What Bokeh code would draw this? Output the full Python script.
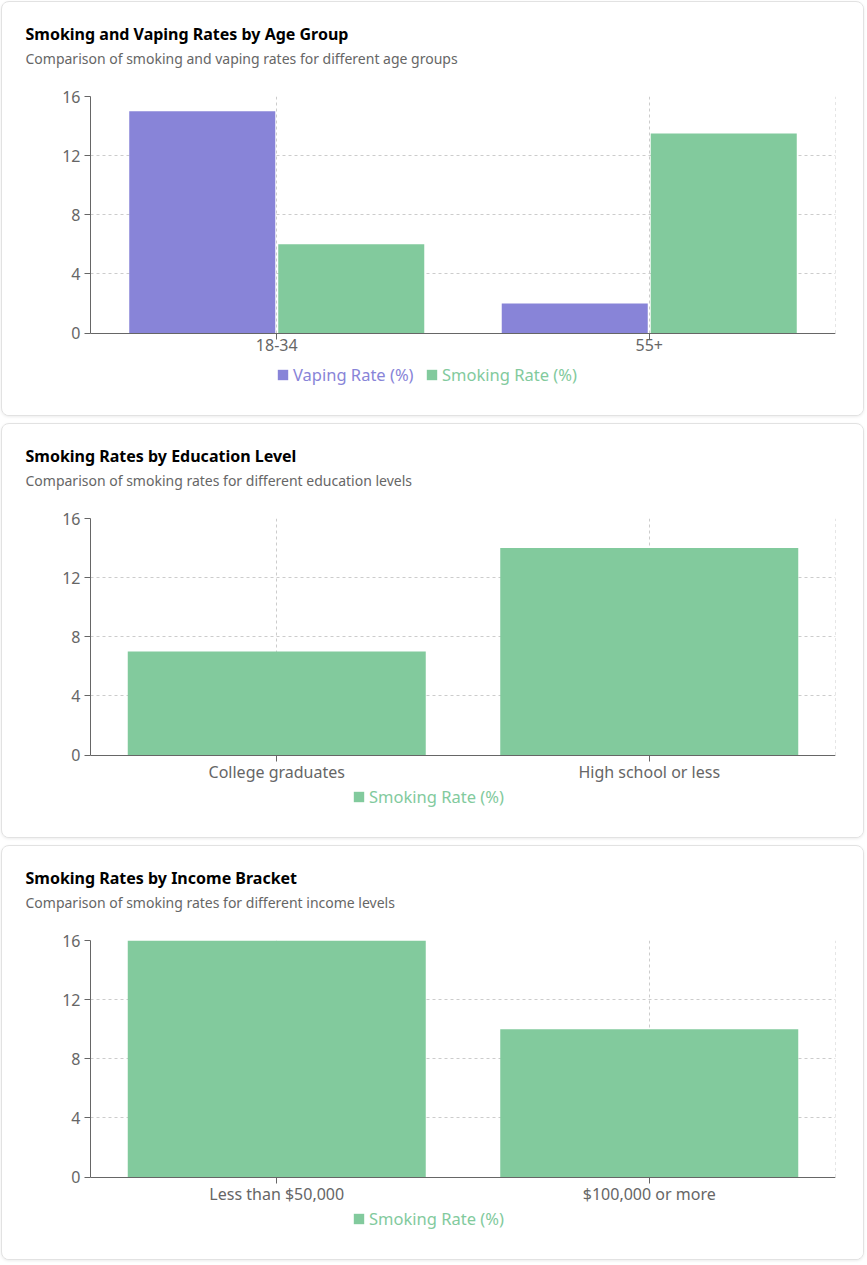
from bokeh.plotting import figure
from bokeh.layouts import column
from bokeh.models import Title, Legend, LegendItem, ColumnDataSource, FixedTicker
from bokeh.transform import dodge
from bokeh.embed import file_html
from bokeh.resources import INLINE

# ---- data ----
age_groups = ["18-34", "55+"]
age_vaping = [15, 2]
age_smoking = [6, 13.5]

edu_levels = ["College graduates", "High school or less"]
edu_smoking = [7, 14]

income_levels = ["Less than $50,000", "$100,000 or more"]
income_smoking = [16, 10]

y_ticks = [0, 4, 8, 12, 16]

VAPE = "#8884d8"
SMOKE = "#82ca9d"
FONT = "Noto Sans"
GRID = "#cccccc"

CARD_W, CARD_H = 863, 415
BORDER_L, BORDER_R, BORDER_T, BORDER_B = 88, 30, 94, 14
PX_PER_UNIT = 235 / 16.0
ZERO_TO_FRAME_BOTTOM = 70  # px between the zero line and the frame bottom


def make_card(title, subtitle, cats):
    ymin = -ZERO_TO_FRAME_BOTTOM / PX_PER_UNIT
    p = figure(x_range=cats, y_range=(ymin, y_ticks[-1]), width=CARD_W, height=CARD_H,
               output_backend="svg", toolbar_location=None,
               min_border_left=BORDER_L, min_border_right=BORDER_R,
               min_border_top=BORDER_T, min_border_bottom=BORDER_B)
    p.title.visible = False
    # spacer, subtitle, title (nearest the frame first)
    p.add_layout(Title(text=" ", text_font=FONT, text_font_size="10px",
                       text_color="white", align="left", standoff=12), "above")
    p.add_layout(Title(text=subtitle, text_font=FONT, text_font_size="14px",
                       text_font_style="normal", text_color="#666666",
                       align="left", offset=-65, standoff=2), "above")
    p.add_layout(Title(text=title, text_font=FONT, text_font_size="16px",
                       text_font_style="bold", text_color="#000000",
                       align="left", offset=-65, standoff=2), "above")
    p.styles = {"border": "1px solid #e2e2e2", "border-radius": "8px",
                "box-shadow": "0 1px 3px rgba(0,0,0,0.08)", "overflow": "hidden",
                "background": "white"}
    p.background_fill_color = "white"
    p.border_fill_color = "white"
    p.outline_line_color = None

    p.ygrid.grid_line_color = GRID
    p.ygrid.grid_line_dash = "3 3"
    p.ygrid.ticker = FixedTicker(ticks=y_ticks)
    p.xgrid.grid_line_color = GRID
    p.xgrid.grid_line_dash = "3 3"
    try:
        p.xgrid.cross_bounds = (y_ticks[0], y_ticks[-1])
    except Exception:
        p.xgrid.visible = False
        seg = ColumnDataSource(dict(c=list(cats), y0=[y_ticks[0]] * len(cats),
                                    y1=[y_ticks[-1]] * len(cats)))
        p.segment(x0="c", x1="c", y0="y0", y1="y1", source=seg,
                  line_color=GRID, line_dash="3 3", level="underlay")
    # right edge of the grid
    edge = ColumnDataSource(dict(c=[cats[-1]], y0=[y_ticks[0]], y1=[y_ticks[-1]]))
    p.segment(x0=dodge("c", 0.5, range=p.x_range), x1=dodge("c", 0.5, range=p.x_range),
              y0="y0", y1="y1", source=edge, line_color=GRID, line_dash="3 3",
              level="underlay")

    p.yaxis.ticker = FixedTicker(ticks=y_ticks)
    p.yaxis.bounds = (y_ticks[0], y_ticks[-1])
    p.xaxis.fixed_location = 0
    for ax in (p.xaxis, p.yaxis):
        ax.axis_line_color = "#666666"
        ax.major_tick_line_color = "#666666"
        ax.minor_tick_line_color = None
        ax.major_tick_out = 6
        ax.major_tick_in = 0
        ax.major_label_text_font = FONT
        ax.major_label_text_font_size = "16px"
        ax.major_label_text_color = "#666666"
    p.xaxis.major_label_standoff = 0
    p.yaxis.major_label_standoff = 4
    p.x_range.range_padding = 0
    return p


def add_legend(p, renderer, label, color, x):
    lg = Legend(items=[LegendItem(label=label, renderers=[renderer])],
                location=(x, 17), orientation="horizontal",
                background_fill_alpha=0, border_line_alpha=0, padding=0,
                margin=0, spacing=0, glyph_width=13, glyph_height=13,
                label_standoff=4, label_text_font=FONT, label_text_font_size="16.5px",
                label_text_color=color)
    p.add_layout(lg, "center")


# ---- card 1 ----
p1 = make_card("Smoking and Vaping Rates by Age Group",
               "Comparison of smoking and vaping rates for different age groups",
               age_groups)
src1 = ColumnDataSource(dict(cat=age_groups, vape=age_vaping, smoke=age_smoking))
r_v = p1.vbar(x=dodge("cat", -0.2, range=p1.x_range), top="vape", width=0.392,
              source=src1, fill_color=VAPE, line_color=None)
r_s = p1.vbar(x=dodge("cat", 0.2, range=p1.x_range), top="smoke", width=0.392,
              source=src1, fill_color=SMOKE, line_color=None)
add_legend(p1, r_v, "Vaping Rate (%)", VAPE, 186)
add_legend(p1, r_s, "Smoking Rate (%)", SMOKE, 335)

# ---- card 2 ----
p2 = make_card("Smoking Rates by Education Level",
               "Comparison of smoking rates for different education levels",
               edu_levels)
src2 = ColumnDataSource(dict(cat=edu_levels, smoke=edu_smoking))
r2 = p2.vbar(x="cat", top="smoke", width=0.8, source=src2,
             fill_color=SMOKE, line_color=None)
add_legend(p2, r2, "Smoking Rate (%)", SMOKE, 262)

# ---- card 3 ----
p3 = make_card("Smoking Rates by Income Bracket",
               "Comparison of smoking rates for different income levels",
               income_levels)
src3 = ColumnDataSource(dict(cat=income_levels, smoke=income_smoking))
r3 = p3.vbar(x="cat", top="smoke", width=0.8, source=src3,
             fill_color=SMOKE, line_color=None)
add_legend(p3, r3, "Smoking Rate (%)", SMOKE, 262)

layout = column(p1, p2, p3, spacing=7,
                styles={"margin-left": "1px", "margin-top": "1px"})

open("out.html", "w").write(file_html(layout, INLINE))
